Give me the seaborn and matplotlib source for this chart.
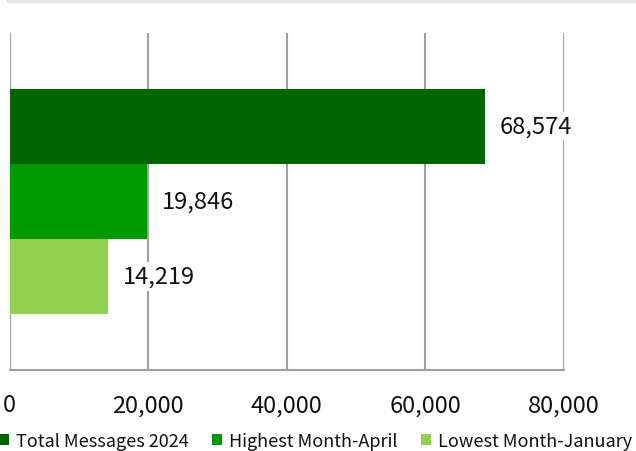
import matplotlib
matplotlib.use("Agg")
import matplotlib.pyplot as plt
import seaborn as sns
import pandas as pd
from matplotlib.lines import Line2D
from matplotlib.patches import Patch

series = ["Total Messages 2024", "Highest Month-April", "Lowest Month-January"]
values = [68574, 19846, 14219]
category = ["Messages"] * 3
colors = ["#006400", "#009900", "#92D050"]
xticks = [0, 20000, 40000, 60000, 80000]

sns.set_theme(style="white")
plt.rcParams["font.family"] = ["Noto Sans CJK KR", "DejaVu Sans"]

df = pd.DataFrame({"category": category, "series": series, "value": values})

fig = plt.figure(figsize=(6.36, 4.52), dpi=100)
ax = fig.add_axes([9.5 / 636, (452 - 370.5) / 452, (564 - 9.5) / 636, (370.5 - 34) / 452])

sns.barplot(data=df, x="value", y="category", hue="series", hue_order=series,
            palette=colors, orient="h", width=0.67, saturation=1, ax=ax,
            legend=False, zorder=3, linewidth=0, edgecolor="none")

ax.set_xlim(0, 80000)
ax.set_ylim(0.5, -0.5)
ax.set_xticks(xticks)
ax.set_xticklabels([f"{v:,}" for v in xticks], fontsize=17, color="#111111")
ax.tick_params(axis="x", length=0, pad=17)
ax.set_yticks([])
ax.set_xlabel("")
ax.set_ylabel("")
ax.xaxis.grid(True, color="#a0a0a0", linewidth=1.5, zorder=0)
ax.set_axisbelow(True)
for s in ["top", "right", "left"]:
    ax.spines[s].set_visible(False)
ax.spines["bottom"].set_color("#a0a0a0")
ax.spines["bottom"].set_linewidth(1.5)

for cont in ax.containers:
    ax.bar_label(cont, labels=[f"{int(v):,}" for v in cont.datavalues],
                 padding=11, fontsize=17, color="#111111",
                 bbox=dict(facecolor="white", edgecolor="none", pad=2), zorder=4)

handles = [Patch(facecolor=c, edgecolor="none") for c in colors]
fig.legend(handles, series, loc="lower left", bbox_to_anchor=(-0.002, 0.002),
           ncol=3, frameon=False, fontsize=13, handlelength=0.55, handleheight=0.6,
           handletextpad=0.39, columnspacing=1.3, borderaxespad=0, borderpad=0,
           labelcolor="#111111")

fig.add_artist(Line2D([8 / 636, 1], [1 - 2 / 452, 1 - 2 / 452], color="#e6e6e6",
                      linewidth=3, transform=fig.transFigure))

fig.savefig("out.png", dpi=100)
